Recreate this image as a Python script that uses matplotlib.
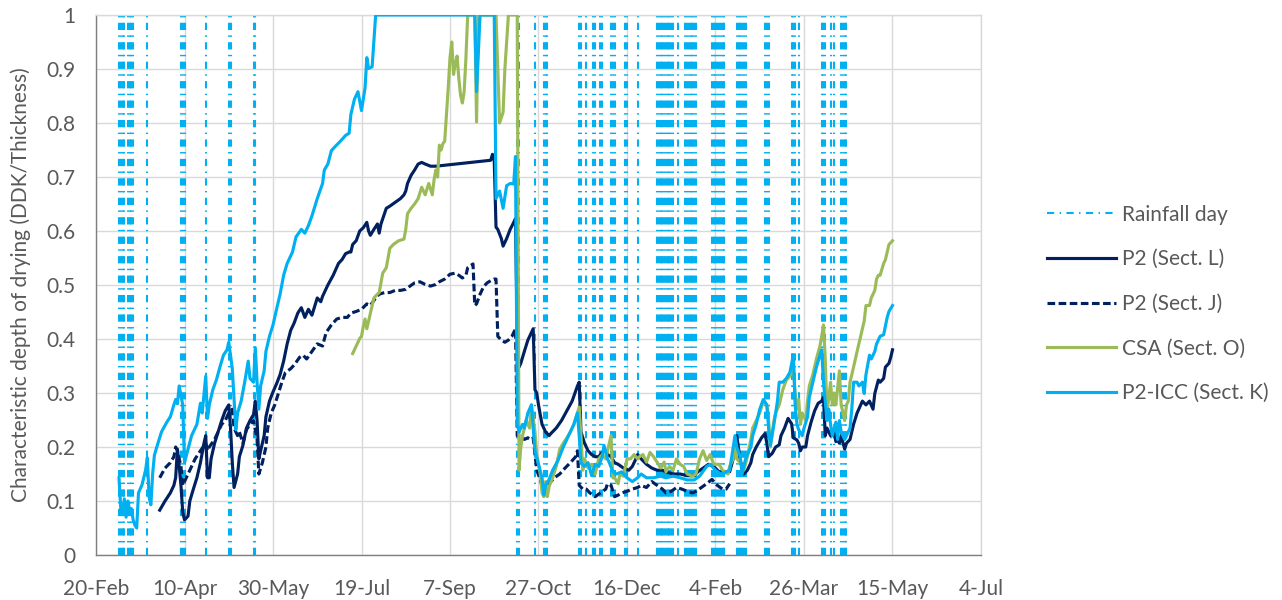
import matplotlib
matplotlib.use("Agg")
import matplotlib.pyplot as plt
import matplotlib.dates as mdates
from matplotlib.lines import Line2D
import pandas as pd

plt.rcParams['font.family'] = ['Lato', 'DejaVu Sans']
plt.rcParams['lines.scale_dashes'] = False

# day offsets are counted from 20-Feb-2020
START = pd.Timestamp('2020-02-20')

rain_day = [13, 14, 15, 16, 18, 19, 20, 21, 29, 48, 49, 50, 62, 75, 76, 89, 90,
            238, 239, 248, 253, 254, 255, 273, 274, 277, 281, 282, 285, 286,
            291, 292, 293, 299, 300, 306, 317, 318, 319, 320, 321, 322, 323, 324,
            325, 326, 329, 333, 334, 335, 336, 337, 338, 339, 348, 349, 350, 351,
            352, 353, 354, 355, 362, 363, 364, 365, 366, 367, 378, 379, 380,
            393, 394, 395, 397, 410, 411, 412, 415, 417, 421, 422, 423, 424]

# P2 (Sect. L)
l_day = [36, 39, 42, 44, 45, 46, 47, 48, 49, 50, 52, 53, 55, 57, 59, 61, 62, 63, 64, 65,
         67, 69, 71, 73, 75, 76, 77, 78, 80, 81, 83, 85, 87, 89, 90, 91, 92, 93, 95, 96,
         98, 100, 102, 104, 106, 108, 110, 112, 114, 116, 118, 120, 122, 125, 127, 128,
         131, 134, 137, 139, 141, 143, 144, 145, 147, 149, 151, 153, 154, 155, 157, 159,
         160, 161, 163, 164, 166, 169, 172, 174, 175, 176, 178, 180, 182, 184, 186, 189,
         192, 223, 224, 225, 226, 227, 229, 230, 232, 234, 236, 237, 238, 239, 240, 242,
         244, 246, 247, 248, 249, 250, 252, 254, 256, 257, 260, 263, 266, 269, 272, 273,
         274, 276, 278, 280, 282, 284, 286, 288, 289, 291, 293, 295, 298, 301, 303, 305,
         306, 308, 311, 314, 317, 320, 322, 326, 330, 334, 338, 340, 343, 346, 349, 352,
         355, 358, 360, 362, 364, 366, 368, 370, 371, 373, 376, 378, 379, 380, 382, 384,
         386, 387, 389, 391, 393, 394, 396, 397, 398, 399, 401, 402, 404, 406, 408, 410,
         411, 412, 413, 415, 417, 418, 419, 420, 421, 423, 424, 426, 428, 430, 432, 433,
         435, 437, 439, 440, 442, 443, 445, 446, 448, 449, 450]
l_val = [0.083, 0.10, 0.115, 0.129, 0.143, 0.196, 0.164, 0.129, 0.079, 0.065, 0.072, 0.10,
         0.122, 0.143, 0.171, 0.207, 0.221, 0.143, 0.143, 0.178, 0.207, 0.228, 0.249, 0.267,
         0.278, 0.235, 0.171, 0.125, 0.15, 0.182, 0.203, 0.235, 0.249, 0.26, 0.285, 0.249,
         0.178, 0.193, 0.221, 0.256, 0.285, 0.302, 0.317, 0.334, 0.359, 0.391, 0.416, 0.43,
         0.448, 0.458, 0.44, 0.455, 0.444, 0.476, 0.469, 0.479, 0.5, 0.518, 0.54, 0.547,
         0.558, 0.561, 0.561, 0.575, 0.582, 0.6, 0.606, 0.616, 0.6, 0.592, 0.603, 0.613,
         0.596, 0.613, 0.632, 0.642, 0.646, 0.653, 0.66, 0.667, 0.674, 0.688, 0.703, 0.713,
         0.724, 0.727, 0.724, 0.72, 0.72, 0.731, 0.742, 0.73, 0.607, 0.603, 0.586, 0.572,
         0.586, 0.603, 0.616, 0.623, 0.40, 0.348, 0.355, 0.377, 0.398, 0.412, 0.419, 0.306,
         0.30, 0.278, 0.242, 0.228, 0.221, 0.225, 0.235, 0.249, 0.267, 0.285, 0.313, 0.32,
         0.228, 0.207, 0.193, 0.186, 0.182, 0.182, 0.19, 0.193, 0.186, 0.182, 0.171, 0.168,
         0.161, 0.157, 0.164, 0.178, 0.186, 0.178, 0.168, 0.161, 0.157, 0.157, 0.154, 0.15,
         0.15, 0.147, 0.147, 0.154, 0.161, 0.168, 0.164, 0.154, 0.154, 0.154, 0.178, 0.221,
         0.175, 0.15, 0.157, 0.171, 0.186, 0.2, 0.217, 0.225, 0.207, 0.182, 0.188, 0.2,
         0.204, 0.221, 0.235, 0.253, 0.243, 0.217, 0.213, 0.207, 0.193, 0.2, 0.2, 0.221,
         0.246, 0.267, 0.281, 0.285, 0.292, 0.221, 0.235, 0.221, 0.228, 0.21, 0.214, 0.207,
         0.221, 0.196, 0.207, 0.214, 0.242, 0.263, 0.278, 0.285, 0.278, 0.285, 0.27, 0.299,
         0.324, 0.32, 0.327, 0.348, 0.355, 0.366, 0.38]

# P2 (Sect. J)
j_day = [36, 39, 42, 44, 45, 46, 48, 49, 51, 53, 56, 59, 62, 63, 64, 67, 69, 71, 73, 75,
         77, 78, 80, 81, 83, 85, 87, 89, 91, 92, 94, 96, 97, 99, 101, 103, 105, 107, 110,
         112, 115, 117, 119, 122, 125, 128, 130, 133, 136, 139, 142, 144, 147, 150, 153,
         155, 158, 160, 163, 166, 169, 172, 175, 177, 180, 183, 186, 189, 192, 194, 197,
         200, 203, 205, 207, 209, 210, 213, 214, 215, 217, 219, 221, 223, 225, 226, 227,
         229, 231, 233, 235, 237, 238, 240, 242, 244, 246, 247, 249, 251, 253, 255, 257,
         259, 262, 265, 268, 271, 272, 273, 275, 277, 279, 282, 285, 288, 289, 291, 293,
         295, 297, 300, 303, 306, 308, 311, 314, 317, 320, 322, 325, 328, 331, 334, 337,
         339, 342, 345, 348, 351, 354, 356, 358]
j_val = [0.143, 0.161, 0.171, 0.182, 0.2, 0.193, 0.164, 0.129, 0.143, 0.157, 0.178, 0.193,
         0.207, 0.193, 0.2, 0.214, 0.228, 0.242, 0.249, 0.263, 0.27, 0.235, 0.221, 0.228,
         0.207, 0.232, 0.242, 0.249, 0.214, 0.15, 0.171, 0.2, 0.235, 0.263, 0.278, 0.299,
         0.32, 0.338, 0.345, 0.352, 0.366, 0.37, 0.363, 0.377, 0.391, 0.387, 0.412, 0.426,
         0.437, 0.44, 0.44, 0.448, 0.451, 0.455, 0.465, 0.462, 0.476, 0.483, 0.486, 0.486,
         0.49, 0.49, 0.492, 0.497, 0.504, 0.506, 0.501, 0.498, 0.501, 0.506, 0.511, 0.52,
         0.522, 0.518, 0.513, 0.518, 0.532, 0.539, 0.462, 0.465, 0.483, 0.497, 0.504, 0.508,
         0.511, 0.511, 0.405, 0.398, 0.394, 0.398, 0.405, 0.419, 0.221, 0.221, 0.214, 0.217,
         0.214, 0.217, 0.157, 0.14, 0.115, 0.129, 0.136, 0.143, 0.15, 0.161, 0.171, 0.182,
         0.193, 0.129, 0.122, 0.122, 0.115, 0.108, 0.115, 0.122, 0.132, 0.129, 0.108, 0.111,
         0.115, 0.118, 0.122, 0.125, 0.129, 0.125, 0.136, 0.129, 0.122, 0.115, 0.118, 0.125,
         0.122, 0.118, 0.115, 0.118, 0.125, 0.132, 0.14, 0.129, 0.122, 0.122, 0.132]

# CSA (Sect. O)
csa_day = [145, 147, 149, 150, 151, 152, 153, 154, 156, 157, 159, 160, 161, 162, 164, 166,
           168, 171, 174, 175, 176, 178, 180, 182, 184, 186, 187, 188, 190, 191, 192, 193,
           194, 195, 196, 197, 198, 199, 200, 201, 202, 203, 204, 205, 206, 207, 208, 209,
           210, 214, 215, 216, 226, 228, 230, 231, 233, 238, 239, 240, 241, 243, 245, 246,
           248, 249, 251, 252, 253, 254, 255, 256, 258, 260, 262, 264, 266, 268, 270, 272,
           273, 274, 275, 276, 278, 280, 282, 284, 286, 288, 289, 291, 292, 293, 295, 296,
           298, 300, 302, 304, 306, 307, 309, 311, 313, 315, 317, 319, 321, 322, 324, 326,
           328, 330, 332, 334, 337, 339, 341, 343, 345, 347, 349, 352, 354, 357, 358, 360,
           361, 362, 364, 366, 368, 370, 371, 373, 375, 377, 379, 380, 381, 383, 384, 386,
           388, 390, 392, 394, 395, 396, 397, 398, 399, 401, 402, 403, 405, 407, 409, 410,
           411, 412, 413, 414, 415, 416, 417, 418, 420, 421, 423, 424, 425, 426, 428, 430,
           432, 434, 435, 437, 438, 440, 441, 442, 443, 445, 446, 447, 448, 450]
csa_val = [0.373, 0.387, 0.401, 0.405, 0.423, 0.437, 0.419, 0.433, 0.462, 0.476, 0.483,
           0.486, 0.504, 0.522, 0.532, 0.568, 0.575, 0.582, 0.585, 0.603, 0.632, 0.642,
           0.65, 0.66, 0.681, 0.667, 0.678, 0.688, 0.667, 0.695, 0.713, 0.70, 0.759, 0.75,
           0.762, 0.766, 0.816, 0.865, 0.921, 0.95, 0.89, 0.91, 0.924, 0.882, 0.851, 0.837,
           0.858, 0.921, 1.0, 1.0, 0.802, 1.0, 1.0, 0.80, 0.82, 0.90, 1.0, 1.0, 0.157, 0.2,
           0.221, 0.249, 0.235, 0.278, 0.228, 0.186, 0.15, 0.115, 0.108, 0.136, 0.108,
           0.127, 0.143, 0.164, 0.196, 0.207, 0.217, 0.228, 0.242, 0.263, 0.274, 0.221,
           0.157, 0.178, 0.161, 0.168, 0.15, 0.178, 0.186, 0.178, 0.193, 0.221, 0.143,
           0.143, 0.132, 0.15, 0.146, 0.178, 0.178, 0.186, 0.178, 0.182, 0.186, 0.172,
           0.19, 0.182, 0.172, 0.161, 0.172, 0.154, 0.164, 0.157, 0.178, 0.168, 0.164,
           0.15, 0.146, 0.15, 0.178, 0.193, 0.175, 0.186, 0.168, 0.168, 0.157, 0.15, 0.164,
           0.178, 0.217, 0.178, 0.171, 0.157, 0.182, 0.214, 0.235, 0.249, 0.263, 0.285,
           0.278, 0.249, 0.2, 0.249, 0.263, 0.278, 0.306, 0.324, 0.331, 0.348, 0.299, 0.27,
           0.288, 0.242, 0.263, 0.249, 0.285, 0.313, 0.334, 0.363, 0.387, 0.405, 0.426,
           0.363, 0.263, 0.292, 0.32, 0.278, 0.30, 0.278, 0.341, 0.278, 0.249, 0.278,
           0.285, 0.32, 0.348, 0.377, 0.405, 0.433, 0.462, 0.462, 0.476, 0.49, 0.511,
           0.518, 0.518, 0.54, 0.547, 0.561, 0.575, 0.582]

# P2-ICC (Sect. K)
icc_day = [13, 14, 15, 16, 17, 18, 19, 20, 21, 22, 23, 24, 26, 28, 29, 30, 31, 32, 33, 35,
           37, 40, 42, 44, 45, 46, 47, 49, 50, 52, 54, 57, 59, 60, 62, 63, 64, 66, 68, 70,
           71, 72, 74, 75, 77, 79, 80, 82, 84, 86, 87, 89, 90, 91, 92, 93, 95, 96, 98, 100,
           102, 104, 106, 108, 111, 113, 116, 118, 120, 122, 125, 128, 129, 131, 133, 135,
           138, 141, 143, 144, 146, 148, 150, 152, 153, 154, 156, 158, 214, 215, 217, 225,
           226, 228, 230, 232, 234, 236, 237, 238, 239, 241, 242, 244, 246, 247, 248, 250,
           252, 253, 254, 256, 258, 261, 264, 267, 270, 272, 273, 274, 276, 278, 280, 282,
           284, 286, 287, 289, 290, 292, 294, 297, 300, 303, 306, 308, 311, 315, 319, 322,
           326, 330, 334, 338, 341, 345, 347, 350, 353, 355, 358, 361, 362, 364, 365, 367,
           370, 371, 373, 375, 377, 379, 380, 381, 383, 385, 386, 388, 390, 392, 394, 395,
           396, 397, 399, 400, 402, 403, 405, 407, 409, 410, 411, 413, 414, 415, 416, 418,
           419, 420, 421, 423, 424, 426, 427, 428, 430, 431, 433, 434, 435, 437, 438, 440,
           441, 443, 445, 447, 448, 450]
icc_val = [0.143, 0.086, 0.076, 0.104, 0.07, 0.10, 0.083, 0.086, 0.065, 0.055, 0.05, 0.115,
           0.13, 0.157, 0.18, 0.107, 0.093, 0.15, 0.185, 0.207, 0.228, 0.246, 0.256, 0.278,
           0.288, 0.28, 0.313, 0.278, 0.171, 0.196, 0.221, 0.242, 0.281, 0.263, 0.331,
           0.253, 0.278, 0.306, 0.324, 0.348, 0.359, 0.37, 0.38, 0.394, 0.345, 0.232, 0.263,
           0.285, 0.32, 0.359, 0.327, 0.32, 0.384, 0.32, 0.27, 0.313, 0.341, 0.377, 0.405,
           0.426, 0.455, 0.483, 0.518, 0.54, 0.561, 0.589, 0.603, 0.596, 0.61, 0.628, 0.66,
           0.688, 0.713, 0.724, 0.749, 0.756, 0.766, 0.777, 0.781, 0.816, 0.844, 0.858,
           0.823, 0.865, 0.921, 0.901, 0.904, 1.0, 1.0, 0.858, 1.0, 1.0, 0.66, 0.674, 0.642,
           0.684, 0.688, 0.687, 0.738, 0.242, 0.228, 0.242, 0.235, 0.263, 0.278, 0.235,
           0.193, 0.168, 0.143, 0.111, 0.129, 0.14, 0.157, 0.175, 0.2, 0.221, 0.242, 0.263,
           0.221, 0.171, 0.164, 0.171, 0.147, 0.168, 0.164, 0.182, 0.203, 0.178, 0.171,
           0.154, 0.15, 0.154, 0.143, 0.136, 0.143, 0.15, 0.143, 0.143, 0.146, 0.143, 0.146,
           0.143, 0.139, 0.139, 0.146, 0.164, 0.168, 0.157, 0.15, 0.152, 0.157, 0.221, 0.2,
           0.182, 0.15, 0.178, 0.2, 0.221, 0.242, 0.27, 0.288, 0.278, 0.235, 0.203, 0.242,
           0.285, 0.32, 0.32, 0.327, 0.338, 0.37, 0.278, 0.242, 0.232, 0.221, 0.235, 0.256,
           0.292, 0.32, 0.348, 0.37, 0.38, 0.32, 0.249, 0.27, 0.242, 0.221, 0.246, 0.214,
           0.249, 0.228, 0.214, 0.221, 0.235, 0.27, 0.32, 0.32, 0.313, 0.32, 0.299, 0.334,
           0.37, 0.363, 0.377, 0.391, 0.405, 0.408, 0.44, 0.451, 0.462]

tick_dates = pd.date_range('2020-02-20', periods=11, freq='50D')


def to_dates(days):
    return START + pd.to_timedelta(days, unit='D')


navy = '#002060'
sky = '#00B0F0'
olive = '#9BBB59'
grid = '#D9D9D9'
txt = '#595959'

fig = plt.figure(figsize=(12.82, 6.0), dpi=100)
ax = fig.add_axes([96 / 1282, 45 / 600, 885 / 1282, 540 / 600])

# rainfall days: one dash-dot vertical per day
rain_style = (0, (5.2, 3.9, 1.0, 3.9))
ax.vlines(to_dates(rain_day), 0, 1, colors=sky, linewidth=1.5,
          linestyles=[rain_style], zorder=1)

ax.plot(to_dates(l_day), l_val, color=navy, lw=2.25, zorder=3)
ax.plot(to_dates(j_day), j_val, color=navy, lw=2.25, linestyle=(0, (5.5, 2.5)), zorder=3)
ax.plot(to_dates(csa_day), csa_val, color=olive, lw=2.25, zorder=3)
ax.plot(to_dates(icc_day), icc_val, color=sky, lw=2.25, zorder=3)

ax.set_xlim(tick_dates[0], tick_dates[-1])
ax.set_ylim(0, 1)
ax.set_xticks(tick_dates)
ax.xaxis.set_major_formatter(mdates.DateFormatter('%-d-%b'))
ax.set_yticks([i / 10 for i in range(11)])
ax.set_yticklabels(['0'] + ['0.%d' % i for i in range(1, 10)] + ['1'])

ax.grid(True, color=grid, lw=1.0, zorder=0)
ax.set_axisbelow(True)
for side in ['top', 'right']:
    ax.spines[side].set_color(grid)
    ax.spines[side].set_linewidth(1.0)
for side in ['left', 'bottom']:
    ax.spines[side].set_color('#7F7F7F')
    ax.spines[side].set_linewidth(1.0)

ax.tick_params(axis='both', length=0, labelsize=15, colors=txt)
ax.tick_params(axis='y', pad=15)
ax.tick_params(axis='x', pad=17)
ax.set_ylabel('Characteristic depth of drying (DDK/Thickness)', fontsize=15, color=txt)
ax.yaxis.set_label_coords(-0.074, 0.5)

handles = [
    Line2D([], [], color=sky, lw=1.5, linestyle=rain_style),
    Line2D([], [], color=navy, lw=2.25),
    Line2D([], [], color=navy, lw=2.25, linestyle=(0, (5.5, 2.5))),
    Line2D([], [], color=olive, lw=2.25),
    Line2D([], [], color=sky, lw=2.25),
]
labels = ['Rainfall day', 'P2 (Sect. L)', 'P2 (Sect. J)', 'CSA (Sect. O)', 'P2-ICC (Sect. K)']
leg = fig.legend(handles, labels, loc='upper left', bbox_to_anchor=(1028 / 1282, 1 - 186 / 600),
                 frameon=False, fontsize=15, handlelength=3.3, handletextpad=0.3,
                 labelspacing=1.18)
for t in leg.get_texts():
    t.set_color(txt)

fig.savefig('out.png', dpi=100)
